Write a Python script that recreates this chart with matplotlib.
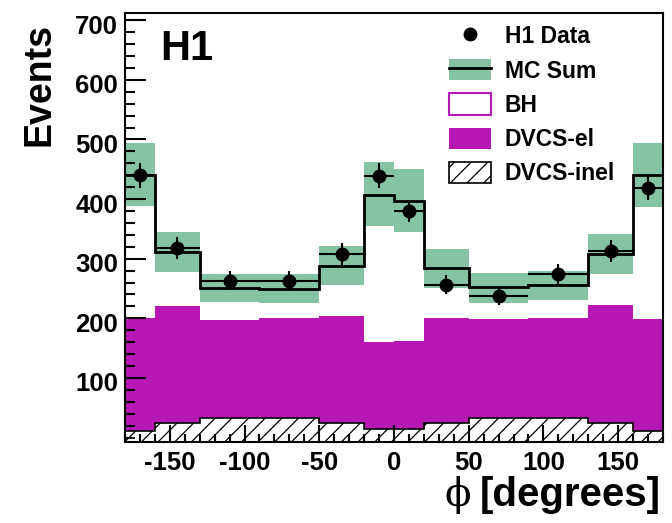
import numpy as np
import matplotlib
matplotlib.use("Agg")
import matplotlib.pyplot as plt
import matplotlib.transforms as mtransforms
from matplotlib.patches import Patch
from matplotlib.lines import Line2D

# phi bin edges (degrees)
edges = [-180, -160, -130, -90, -50, -20, 0, 20, 50, 90, 130, 160, 180]

# H1 data with errors
data = [440, 318, 263, 263, 308, 439, 380, 256, 238, 274, 313, 418]
data_err = [21, 18, 16, 16, 18, 21, 19, 16, 15, 17, 18, 20]

# MC sum and its error band
mc_sum = [441, 312, 251, 249, 288, 407, 397, 284, 253, 255, 308, 441]
band_lo = [388, 278, 227, 225, 255, 354, 345, 251, 226, 230, 274, 387]
band_hi = [494, 345, 274, 274, 321, 462, 450, 316, 276, 280, 341, 494]

# MC components
dvcs_inel = [11, 25, 32, 33, 25, 15, 15, 25, 33, 33, 24, 11]
dvcs_el = [190, 196, 165, 167, 178, 146, 147, 176, 166, 167, 198, 188]

green = "#86c3a5"
magenta = "#b718b4"

plt.rcParams["font.family"] = ["Liberation Sans", "DejaVu Sans"]
plt.rcParams["font.weight"] = "bold"
plt.rcParams["hatch.linewidth"] = 0.9
plt.rcParams["axes.unicode_minus"] = False

fig = plt.figure(figsize=(6.72, 5.23), dpi=100)
ax = fig.add_axes([0.186, 0.1555, 0.8006, 0.8195])

edges_a = np.array(edges, dtype=float)
centers = 0.5 * (edges_a[1:] + edges_a[:-1])
half_w = 0.5 * np.diff(edges_a)
el_top = np.array(dvcs_el) + np.array(dvcs_inel)

ymin, ymax = -7, 712

# error band, stacked components, MC line
ax.stairs(band_hi, edges, baseline=band_lo, fill=True, color=green, lw=0, zorder=1)
ax.stairs(el_top, edges, baseline=ymin, fill=True, color=magenta, lw=0, zorder=1)
ax.stairs(dvcs_inel, edges, baseline=ymin, fill=True, facecolor="white",
          edgecolor="black", hatch="//", lw=1.2, zorder=1)
ax.stairs(mc_sum, edges, baseline=None, color="black", lw=2.0, zorder=3)

ax.errorbar(centers, data, xerr=half_w, yerr=data_err, fmt="o", color="black",
            ms=9, elinewidth=1.5, capsize=0, zorder=4)

ax.set_xlim(-180, 180)
ax.set_ylim(ymin, ymax)
ax.set_xticks([-150, -100, -50, 0, 50, 100, 150])
ax.set_xticks(np.arange(-180, 181, 10), minor=True)
ax.set_yticks([100, 200, 300, 400, 500, 600, 700])
ax.set_yticks(np.arange(0, 712, 20), minor=True)
ax.tick_params(axis="both", which="both", direction="in", labelsize=18.5,
               top=False, right=False, width=1.5)
ax.tick_params(axis="y", which="major", length=15, pad=5)
ax.tick_params(axis="y", which="minor", length=7.5)
ax.tick_params(axis="x", which="major", length=12, pad=7)
ax.tick_params(axis="x", which="minor", length=6)
# y labels sit a little below their ticks, as in the original
shift = mtransforms.ScaledTranslation(0, -4 / 100, fig.dpi_scale_trans)
for lab in ax.get_yticklabels():
    lab.set_transform(lab.get_transform() + shift)
for lab in ax.get_xticklabels() + ax.get_yticklabels():
    lab.set_fontweight("bold")
for sp in ax.spines.values():
    sp.set_linewidth(1.5)
    sp.set_zorder(5)

# titles
fig.text(40 / 672, 1 - 85 / 523, "Events", rotation=90, ha="center", va="center",
         fontsize=27, fontweight="bold")
fig.text(471 / 672, 1 - 506 / 523, "ϕ", ha="right", va="baseline", fontsize=28,
         family=["DejaVu Serif"], fontweight="normal")
fig.text(661 / 672, 1 - 506 / 523, "[degrees]", ha="right", va="baseline",
         fontsize=29, fontweight="bold")
fig.text(160 / 672, 1 - 60 / 523, "H1", ha="left", va="baseline", fontsize=30,
         fontweight="bold")

# legend
handles = [
    Line2D([], [], marker="o", color="black", ls="none", ms=9),
    (Patch(facecolor=green, edgecolor="none"), Line2D([], [], color="black", lw=2)),
    Patch(facecolor="white", edgecolor=magenta, lw=1.5),
    Patch(facecolor=magenta, edgecolor="none"),
    Patch(facecolor="white", edgecolor="black", hatch="//", lw=1.2),
]
labels = ["H1 Data", "MC Sum", "BH", "DVCS-el", "DVCS-inel"]
leg = ax.legend(handles, labels, loc="upper left",
                bbox_to_anchor=(449 / 672, 1 - 25 / 523),
                bbox_transform=fig.transFigure, frameon=False,
                prop={"size": 16.5, "weight": "bold"}, handlelength=1.83,
                handleheight=1.05, handletextpad=0.6, labelspacing=0.47,
                borderpad=0, borderaxespad=0)

fig.savefig("out.png", dpi=100)
